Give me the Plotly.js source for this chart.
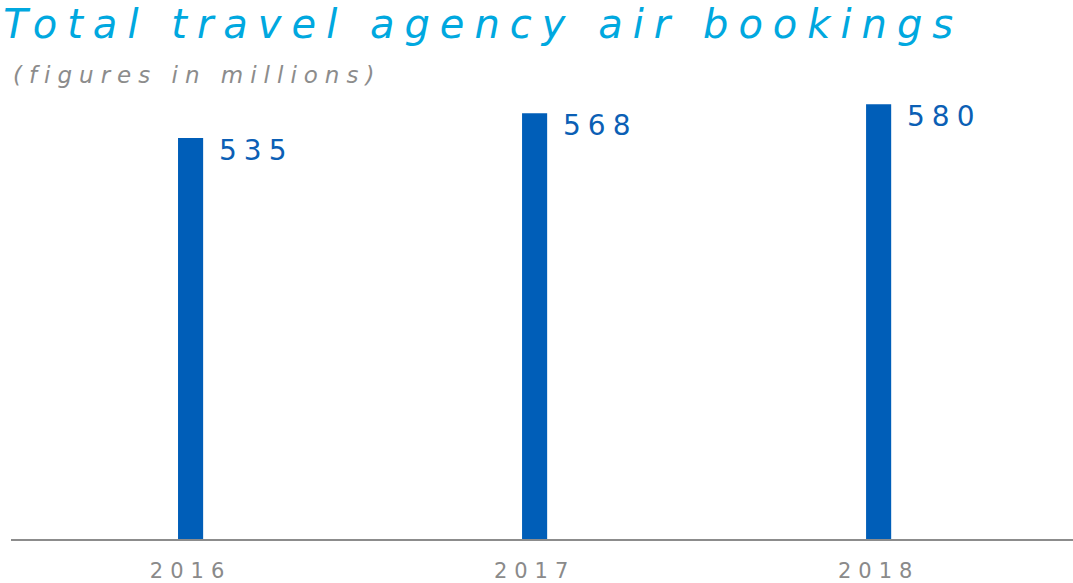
<!DOCTYPE html>
<html>
<head>
<meta charset="utf-8">
<script src="https://cdn.plot.ly/plotly-3.0.1.min.js"></script>
<style>
html,body{margin:0;padding:0;background:#fff;}
#chart{width:1073px;height:583px;}
.gtitle{letter-spacing:10px;}
.xtick text{letter-spacing:7px;}
.annotation-text{letter-spacing:7px;}
</style>
</head>
<body>
<div id="chart"></div>
<script>
const years = ['2016', '2017', '2018'];
const bookings = [535, 568, 580];
const labels = ['535', '568', '580'];
const chartTitle = 'Total travel agency air bookings';
const chartSubtitle = '(figures in millions)';

const barColor = '#005eb8';
const font = 'DejaVu Sans, sans-serif';

const trace = {
  type: 'bar',
  x: years,
  y: bookings,
  width: 0.073,
  marker: {color: barColor},
  hoverinfo: 'x+y'
};

const valueAnnotations = years.map((yr, i) => ({
  x: i, y: bookings[i], xref: 'x', yref: 'y',
  text: labels[i], showarrow: false,
  xanchor: 'left', yanchor: 'middle',
  xshift: 26, yshift: -12,
  font: {family: font, size: 28, color: '#0b5fb5'}
}));

const layout = {
  width: 1073, height: 583,
  margin: {l: 11, r: 0, t: 100, b: 44},
  paper_bgcolor: '#fff', plot_bgcolor: '#fff',
  showlegend: false,
  title: {
    text: '<i>' + chartTitle + '</i>',
    x: 0.003, xanchor: 'left', xref: 'container',
    y: 0.982, yanchor: 'top', yref: 'container',
    font: {family: font, size: 40, color: '#00a8df'}
  },
  xaxis: {
    type: 'category',
    range: [-0.522, 2.565],
    showline: true, linecolor: '#8c8c8c', linewidth: 2,
    ticks: '', showgrid: false, zeroline: false,
    ticklabelstandoff: 12,
    tickfont: {family: font, size: 21, color: '#8a8a8a'},
    fixedrange: true
  },
  yaxis: {
    range: [0, 585.8],
    showline: false, showticklabels: false, ticks: '',
    showgrid: false, zeroline: false,
    fixedrange: true
  },
  annotations: [
    {
      text: '<i>' + chartSubtitle + '</i>', showarrow: false,
      xref: 'paper', yref: 'paper', x: 0, y: 1.058,
      xanchor: 'left', yanchor: 'middle',
      font: {family: font, size: 23, color: '#8c8c8c'}
    }
  ].concat(valueAnnotations)
};

Plotly.newPlot('chart', [trace], layout, {displayModeBar: false, staticPlot: true});
</script>
</body>
</html>
